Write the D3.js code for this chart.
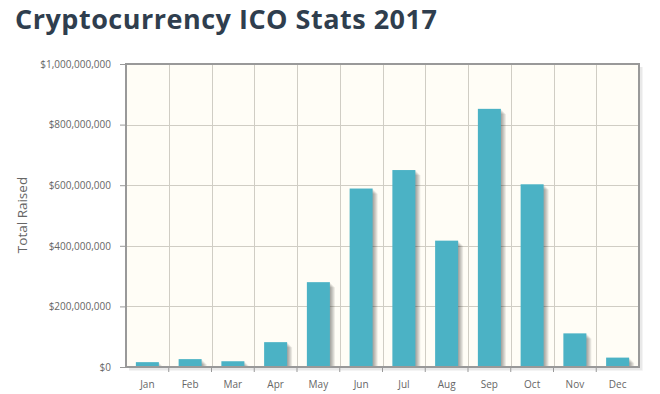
<!DOCTYPE html>
<html>
<head>
<meta charset="utf-8">
<script src="https://cdn.jsdelivr.net/npm/d3@7"></script>
<style>
  body { margin: 0; background: #fff; }
  svg text { font-family: "Open Sans", sans-serif; }
</style>
</head>
<body>
<div id="chart"></div>
<script>
// months and total raised per month (USD)
const months = ["Jan", "Feb", "Mar", "Apr", "May", "Jun", "Jul", "Aug", "Sep", "Oct", "Nov", "Dec"];
const raised = [16e6, 26e6, 19e6, 82e6, 280e6, 589e6, 650e6, 417e6, 852e6, 603e6, 111e6, 31e6];
const yTicks = [0, 2e8, 4e8, 6e8, 8e8, 1e9];

const width = 660;
const height = 394;
const plot = {left: 126, right: 639, top: 64, bottom: 367};
const barWidth = 23;

const svg = d3.select("#chart").append("svg")
              .attr("width", width)
              .attr("height", height);

const x = d3.scaleBand()
            .domain(months)
            .range([plot.left, plot.right]);

const y = d3.scaleLinear()
            .domain([0, 1e9])
            .range([plot.bottom, plot.top]);

const money = d => "$" + d3.format(",")(d);

// title
svg.append("text")
   .attr("x", 15)
   .attr("y", 29)
   .style("font-size", "27px")
   .style("letter-spacing", "0.5px")
   .style("font-weight", "bold")
   .style("fill", "#2f3e4e")
   .text("Cryptocurrency ICO Stats 2017");

// background of the grid
svg.append("rect")
   .attr("x", plot.left)
   .attr("y", plot.top)
   .attr("width", plot.right - plot.left)
   .attr("height", plot.bottom - plot.top)
   .style("fill", "#fffdf6");

// grid lines
const grid = svg.append("g").style("stroke", "#d0cdc4").style("stroke-width", 1);

grid.selectAll("line.h")
    .data(yTicks)
    .enter().append("line")
    .attr("x1", plot.left).attr("x2", plot.right)
    .attr("y1", d => Math.round(y(d)) + 0.5)
    .attr("y2", d => Math.round(y(d)) + 0.5);

grid.selectAll("line.v")
    .data(months.slice(1))
    .enter().append("line")
    .attr("x1", d => Math.round(x(d)) + 0.5)
    .attr("x2", d => Math.round(x(d)) + 0.5)
    .attr("y1", plot.top).attr("y2", plot.bottom);

// bar shadows
const shadow = svg.append("g");
[1, 2, 3, 4, 5].forEach(i => {
  shadow.selectAll(null)
        .data(raised)
        .enter().append("rect")
        .attr("x", (d, j) => x(months[j]) + (x.bandwidth() - barWidth) / 2 + i)
        .attr("y", d => y(d) + i)
        .attr("width", barWidth)
        .attr("height", d => Math.max(0, plot.bottom - y(d) - i))
        .style("fill", "#000")
        .style("opacity", 0.08);
});

// bars
svg.append("g").selectAll("rect")
   .data(raised)
   .enter().append("rect")
   .attr("x", (d, i) => x(months[i]) + (x.bandwidth() - barWidth) / 2)
   .attr("y", d => y(d))
   .attr("width", barWidth)
   .attr("height", d => plot.bottom - y(d))
   .style("fill", "#4bb2c5");

// border of the grid, with a soft shadow
[1, 2, 3].forEach(i => {
  svg.append("path")
     .attr("d", `M${plot.right + i},${plot.top + 3} V${plot.bottom + i} H${plot.left + 3}`)
     .style("fill", "none")
     .style("stroke", "#000")
     .style("stroke-opacity", 0.06)
     .style("stroke-width", 1.5);
});
svg.append("rect")
   .attr("x", plot.left)
   .attr("y", plot.top)
   .attr("width", plot.right - plot.left)
   .attr("height", plot.bottom - plot.top)
   .style("fill", "none")
   .style("stroke", "#999")
   .style("stroke-width", 2);

// y axis
const yAxis = svg.append("g")
   .attr("transform", `translate(${plot.left - 1},0)`)
   .call(d3.axisLeft(y).tickValues(yTicks).tickFormat(money).tickSize(5).tickPadding(9));

// x axis
const xAxis = svg.append("g")
   .attr("transform", `translate(0,${plot.bottom + 1})`)
   .call(d3.axisBottom(x).tickSize(0).tickPadding(13));

xAxis.selectAll(".tick").filter((d, i) => i > 0)
     .append("line")
     .attr("x1", -x.bandwidth() / 2).attr("x2", -x.bandwidth() / 2)
     .attr("y1", 0).attr("y2", 4)
     .style("stroke", "#999");

[yAxis, xAxis].forEach(a => {
  a.select(".domain").remove();
  a.selectAll(".tick line").style("stroke", "#999");
  a.selectAll("text")
   .style("font-family", "'Open Sans', sans-serif")
   .style("font-size", "10px")
   .style("fill", "#666");
});

// axis label
svg.append("text")
   .attr("transform", "translate(27,215) rotate(-90)")
   .attr("text-anchor", "middle")
   .style("font-size", "13.5px")
   .style("fill", "#666")
   .text("Total Raised");
</script>
</body>
</html>
